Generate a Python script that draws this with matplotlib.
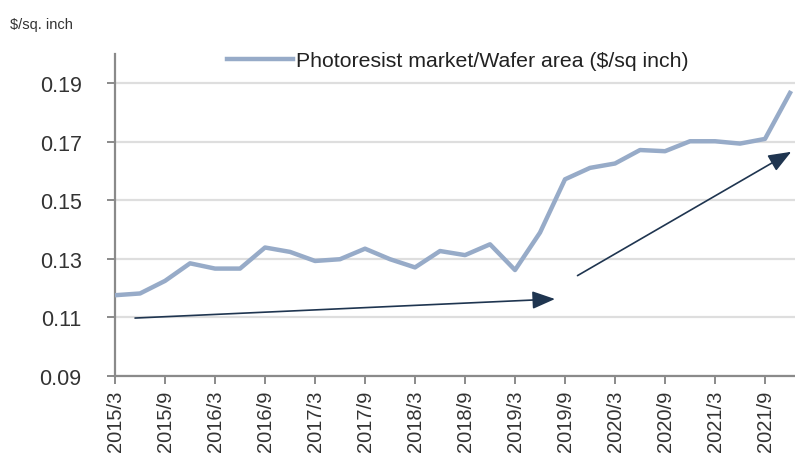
import matplotlib
matplotlib.use("Agg")
import matplotlib.pyplot as plt

plt.rcParams['font.family'] = ['Liberation Sans', 'DejaVu Sans']

quarters = ["2015/3", "2015/6", "2015/9", "2015/12", "2016/3", "2016/6", "2016/9", "2016/12",
            "2017/3", "2017/6", "2017/9", "2017/12", "2018/3", "2018/6", "2018/9", "2018/12",
            "2019/3", "2019/6", "2019/9", "2019/12", "2020/3", "2020/6", "2020/9", "2020/12",
            "2021/3", "2021/6", "2021/9", "2021/12"]
values = [0.1176, 0.1182, 0.1225, 0.1285, 0.1267, 0.1267, 0.1339, 0.1324,
          0.1293, 0.1299, 0.1335, 0.1299, 0.1271, 0.1327, 0.1313, 0.1350,
          0.1262, 0.1390, 0.1572, 0.1611, 0.1626, 0.1672, 0.1668, 0.1702,
          0.1702, 0.1694, 0.1710, 0.1867]
tick_labels = quarters[::2]
yticks = [0.09, 0.11, 0.13, 0.15, 0.17, 0.19]
series_name = "Photoresist market/Wafer area ($/sq inch)"

# trend arrows (start, end) in data coords: (index, value)
arrow1 = ((0.8, 0.1098), (17.6, 0.1163))
arrow2 = ((18.5, 0.1243), (27.05, 0.1666))

fig = plt.figure(figsize=(7.95, 4.6), dpi=100)
ax = fig.add_axes([0.1447, 0.1804, 0.8553, 0.7000])

x = list(range(len(values)))
ax.plot(x, values, color='#97abc8', lw=3.2, solid_joinstyle='round', label=series_name, zorder=3)

ax.set_xlim(0, 27.2)
ax.set_ylim(0.09, 0.20)
ax.set_yticks(yticks)
ax.set_yticklabels([f"{v:.2f}" for v in yticks])
ax.set_xticks(x[::2])
ax.set_xticklabels(tick_labels, rotation=90)

ax.grid(axis='y', color='#dedede', lw=1.6)
ax.set_axisbelow(True)
for s in ['top', 'right']:
    ax.spines[s].set_visible(False)
for s in ['left', 'bottom']:
    ax.spines[s].set_color('#8a8a8a')
    ax.spines[s].set_linewidth(1.6)
ax.tick_params(axis='both', colors='#8a8a8a', width=1.4, length=6, labelcolor='#333333')
ax.tick_params(axis='y', labelsize=15.5, pad=18)
ax.tick_params(axis='x', labelsize=14.5, pad=4)

for (s, e) in (arrow1, arrow2):
    ax.annotate("", xy=e, xytext=s,
                arrowprops=dict(arrowstyle='-|>,head_length=1.4,head_width=0.55',
                                color='#1f3550', lw=1.2, shrinkA=0, shrinkB=0), zorder=4)

leg = ax.legend(loc='upper left', bbox_to_anchor=(0.152, 1.035), frameon=False,
                fontsize=15.3, handlelength=3.1, handletextpad=0.15, borderaxespad=0)
for t in leg.get_texts():
    t.set_color('#222222')

fig.text(0.013, 0.945, "$/sq. inch", fontsize=10.5, color='#333333', ha='left', va='center')

fig.savefig("out.png", dpi=100, facecolor='white')
